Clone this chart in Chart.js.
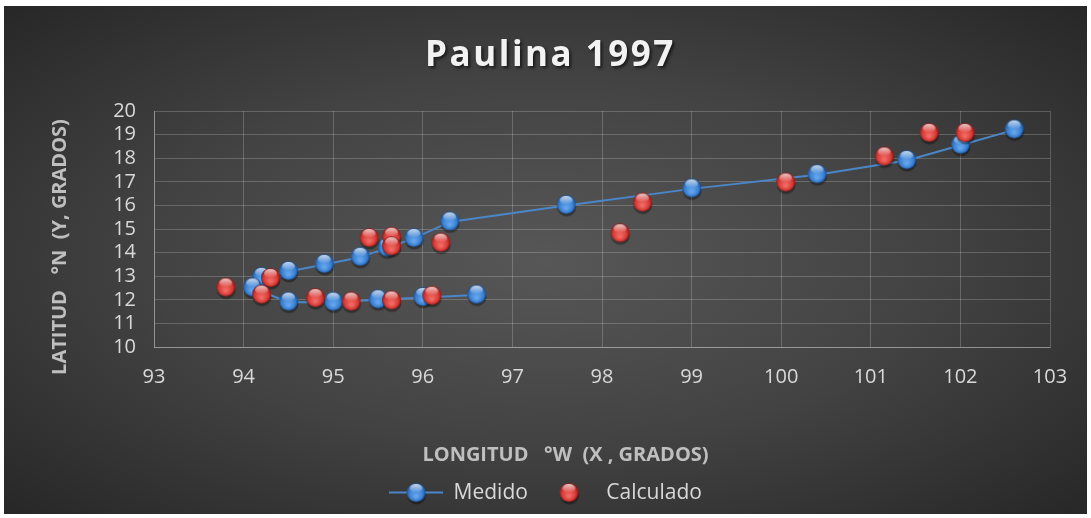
<!DOCTYPE html>
<html>
<head>
<meta charset="utf-8">
<script src="https://cdn.jsdelivr.net/npm/chart.js@4/dist/chart.umd.min.js"></script>
<style>
html, body { margin: 0; padding: 0; background: #fff; }
.wrap {
    position: absolute; left: 4px; top: 6px; width: 1083px; height: 508px;
    background: radial-gradient(ellipse at 50% 50%, #575757 0%, #434343 50%, #272727 100%);
}
canvas { display: block; }
</style>
</head>
<body>
<div class="wrap"><canvas id="myChart" width="1083" height="508"></canvas></div>
<script>
// data
const medidoX = [102.6, 102.0, 101.4, 100.4, 99.0, 97.6, 96.3, 95.9, 95.6, 95.3, 94.9, 94.5, 94.2, 94.1, 94.5, 95.0, 95.5, 96.0, 96.6];
const medidoY = [19.2, 18.55, 17.9, 17.3, 16.7, 16.0, 15.3, 14.6, 14.2, 13.8, 13.5, 13.2, 12.95, 12.5, 11.9, 11.9, 12.0, 12.1, 12.2];
const calcX = [102.05, 101.65, 101.15, 100.05, 98.45, 98.2, 96.2, 95.65, 95.65, 95.4, 94.3, 93.8, 94.2, 94.8, 95.2, 95.65, 96.1];
const calcY = [19.05, 19.05, 18.05, 16.95, 16.1, 14.8, 14.4, 14.65, 14.25, 14.6, 12.9, 12.5, 12.2, 12.05, 11.9, 11.95, 12.15];
const xMin = 93, xMax = 103, yMin = 10, yMax = 20;
const titleText = 'Paulina 1997';
const xTitle = 'LONGITUD   °W  (X , GRADOS)';
const yTitle = 'LATITUD   °N  (Y, GRADOS)';

const FONT = "'Open Sans', 'Noto Sans', sans-serif";

// sphere markers
function makeBall(d, base, light, dark) {
    const pad = 3;
    const cv = document.createElement('canvas');
    cv.width = d + pad * 2;
    cv.height = d + pad * 2;
    const g = cv.getContext('2d');
    const r = d / 2, cx = cv.width / 2, cy = cv.height / 2 - 1;
    g.fillStyle = 'rgba(0,0,0,0.35)';
    g.beginPath(); g.arc(cx + 0.5, cy + 2.5, r, 0, Math.PI * 2); g.fill();
    let gr = g.createRadialGradient(cx, cy + r * 0.4, r * 0.1, cx, cy, r);
    gr.addColorStop(0, light);
    gr.addColorStop(0.7, base);
    gr.addColorStop(1, dark);
    g.fillStyle = gr;
    g.beginPath(); g.arc(cx, cy, r, 0, Math.PI * 2); g.fill();
    gr = g.createLinearGradient(0, cy - r, 0, cy);
    gr.addColorStop(0, 'rgba(255,255,255,0.85)');
    gr.addColorStop(1, 'rgba(255,255,255,0)');
    g.fillStyle = gr;
    g.beginPath(); g.ellipse(cx, cy - r * 0.45, r * 0.68, r * 0.45, 0, 0, Math.PI * 2); g.fill();
    return cv;
}
const blueBall = makeBall(19, '#3a7fd0', '#64a6ee', '#1d4f90');
const redBall = makeBall(19, '#d63a36', '#f26a64', '#8a1c1a');

function legendImg(ball, withLine) {
    const cv = document.createElement('canvas');
    cv.width = 54; cv.height = ball.height;
    const g = cv.getContext('2d');
    if (withLine) {
        g.strokeStyle = '#4a86c8';
        g.lineWidth = 2;
        g.beginPath(); g.moveTo(0, cv.height / 2 - 1); g.lineTo(54, cv.height / 2 - 1); g.stroke();
    }
    g.drawImage(ball, (54 - ball.width) / 2, 0);
    return cv;
}
const legendBlue = legendImg(blueBall, true);
const legendRed = legendImg(redBall, false);

const medido = medidoX.map((x, i) => ({ x: x, y: medidoY[i] }));
const calculado = calcX.map((x, i) => ({ x: x, y: calcY[i] }));

const gridColor = 'rgba(255,255,255,0.2)';

// axis titles, drawn off-centre like the original
const axisTitles = {
    id: 'axisTitles',
    afterDraw(chart) {
        const c = chart.ctx;
        const a = chart.chartArea;
        c.save();
        c.font = 'bold 20px ' + FONT;
        c.fillStyle = '#bfbfbf';
        c.textAlign = 'center';
        c.textBaseline = 'middle';
        c.fillText(xTitle, chart.width / 2 + 20, a.bottom + 108);
        c.translate(56, (a.top + a.bottom) / 2 + 18);
        c.rotate(-Math.PI / 2);
        c.fillText(yTitle, 0, 0);
        c.restore();
    }
};

const ctx = document.getElementById('myChart');
const chart = new Chart(ctx, {
    type: 'scatter',
    data: {
        datasets: [{
            label: 'Medido',
            data: medido,
            showLine: true,
            borderColor: '#4a86c8',
            borderWidth: 2,
            pointStyle: blueBall,
            pointRadius: 9,
            order: 1
        }, {
            label: 'Calculado',
            data: calculado,
            showLine: false,
            pointStyle: redBall,
            pointRadius: 9,
            order: 0
        }]
    },
    options: {
        responsive: false,
        animation: false,
        layout: { padding: 0 },
        plugins: {
            title: {
                display: true,
                text: titleText,
                color: '#f2f2f2',
                font: { family: FONT, size: 35, weight: 'bold', lineHeight: 1.2 },
                padding: { top: 26, bottom: 37 }
            },
            legend: {
                position: 'bottom',
                labels: {
                    usePointStyle: true,
                    pointStyleWidth: 54,
                    color: '#d9d9d9',
                    font: { family: FONT, size: 21 },
                    padding: 14,
                    generateLabels: () => [
                        { text: 'Medido', pointStyle: legendBlue, datasetIndex: 0, fontColor: '#d9d9d9', lineWidth: 0 },
                        { text: 'Calculado', pointStyle: legendRed, datasetIndex: 1, fontColor: '#d9d9d9', lineWidth: 0 }
                    ]
                }
            },
            tooltip: { enabled: false }
        },
        scales: {
            x: {
                type: 'linear',
                min: xMin,
                max: xMax,
                afterFit: s => { s.height = 122; },
                ticks: { stepSize: 1, autoSkip: false, color: '#d9d9d9', font: { family: FONT, size: 20 }, padding: 18 },
                grid: { color: gridColor, drawTicks: false },
                border: { color: 'rgba(255,255,255,0.3)' }
            },
            y: {
                min: yMin,
                max: yMax,
                afterFit: s => { s.width = 150; },
                ticks: { stepSize: 1, autoSkip: false, color: '#d9d9d9', font: { family: FONT, size: 20 }, padding: 18 },
                grid: { color: gridColor, drawTicks: false },
                border: { color: 'rgba(255,255,255,0.3)' }
            },
            // empty right gutter so the title and legend stay centred on the whole canvas
            yRight: {
                position: 'right',
                min: yMin,
                max: yMax,
                afterFit: s => { s.width = 37; },
                ticks: { display: false },
                grid: { display: false },
                border: { display: false }
            }
        }
    },
    plugins: [axisTitles]
});

// title with shadow and letter spacing
const tb = chart.titleBlock;
tb.draw = function () {
    const c = chart.ctx;
    c.save();
    c.font = 'bold 35px ' + FONT;
    c.letterSpacing = '2.5px';
    c.textAlign = 'left';
    c.textBaseline = 'middle';
    const w = c.measureText(titleText).width;
    c.shadowColor = 'rgba(0,0,0,0.6)';
    c.shadowOffsetX = 2;
    c.shadowOffsetY = 2;
    c.shadowBlur = 3;
    c.fillStyle = '#f2f2f2';
    c.fillText(titleText, (chart.width - w) / 2 + 5, tb.top + 26 + 24);
    c.restore();
};
chart.draw();
</script>
</body>
</html>
